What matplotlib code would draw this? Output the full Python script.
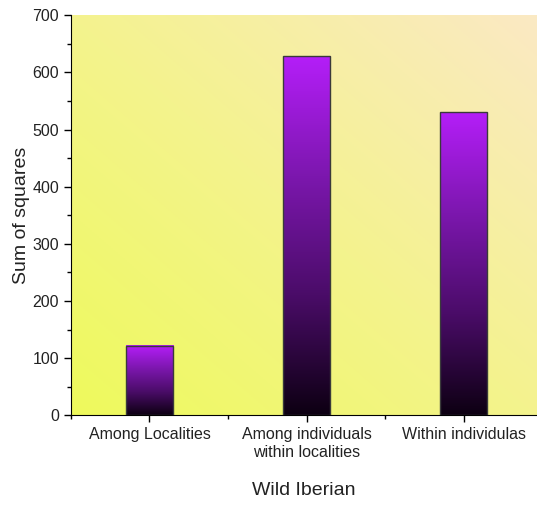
import numpy as np
import matplotlib.pyplot as plt
from matplotlib.colors import LinearSegmentedColormap
from matplotlib.ticker import MultipleLocator, FixedLocator

categories = ["Among Localities", "Among individuals\nwithin localities", "Within individulas"]
values = [121, 628, 530]

plt.rcParams['font.family'] = ['Liberation Sans', 'DejaVu Sans']

fig = plt.figure(figsize=(5.37, 5.07), dpi=100)
ax = fig.add_axes([0.132, 0.181, 0.868, 0.789])

# background gradient, yellow-green bottom-left to beige top-right
bg = LinearSegmentedColormap.from_list("bg", ["#eefa5c", "#f4f38e", "#fbe9c4"])
gx, gy = np.meshgrid(np.linspace(0, 1, 200), np.linspace(0, 1, 200))
ax.imshow(0.5 * (gx + gy), cmap=bg, origin="lower", extent=[0, 1, 0, 1],
          transform=ax.transAxes, aspect="auto", zorder=0)

# bars with vertical gradient
barc = LinearSegmentedColormap.from_list("bar", ["#0d0012", "#4a0c68", "#7c17ae", "#b41ef8"])
grad = np.linspace(0, 1, 256).reshape(-1, 1)
x = np.arange(len(values))
width = 0.3
bars = ax.bar(x, values, width, facecolor="none", edgecolor="#3a3a3a", linewidth=1, zorder=3)
for b in bars:
    x0, y0 = b.get_x(), b.get_y()
    ax.imshow(grad, cmap=barc, origin="lower", aspect="auto",
              extent=[x0, x0 + b.get_width(), y0, y0 + b.get_height()], zorder=2)

ax.set_xlim(-0.5, 2.465)
ax.set_ylim(0, 700)
ax.set_xticks(x)
ax.set_xticklabels(categories, fontsize=11.5, color="#222222", linespacing=1.25)
ax.xaxis.set_minor_locator(FixedLocator([-0.5, 0.5, 1.5, 2.5]))
ax.yaxis.set_major_locator(MultipleLocator(100))
ax.yaxis.set_minor_locator(MultipleLocator(50))
ax.tick_params(axis="y", labelsize=11.5, labelcolor="#222222")
ax.tick_params(which="major", direction="out", length=5, width=1)
ax.tick_params(which="minor", direction="out", length=3, width=1)

for s in ["top", "right"]:
    ax.spines[s].set_visible(False)

ax.set_xlabel("Wild Iberian", fontsize=14, labelpad=16, color="#222222")
ax.set_ylabel("Sum of squares", fontsize=14, labelpad=2, color="#222222")

plt.savefig("out.png", dpi=100)
